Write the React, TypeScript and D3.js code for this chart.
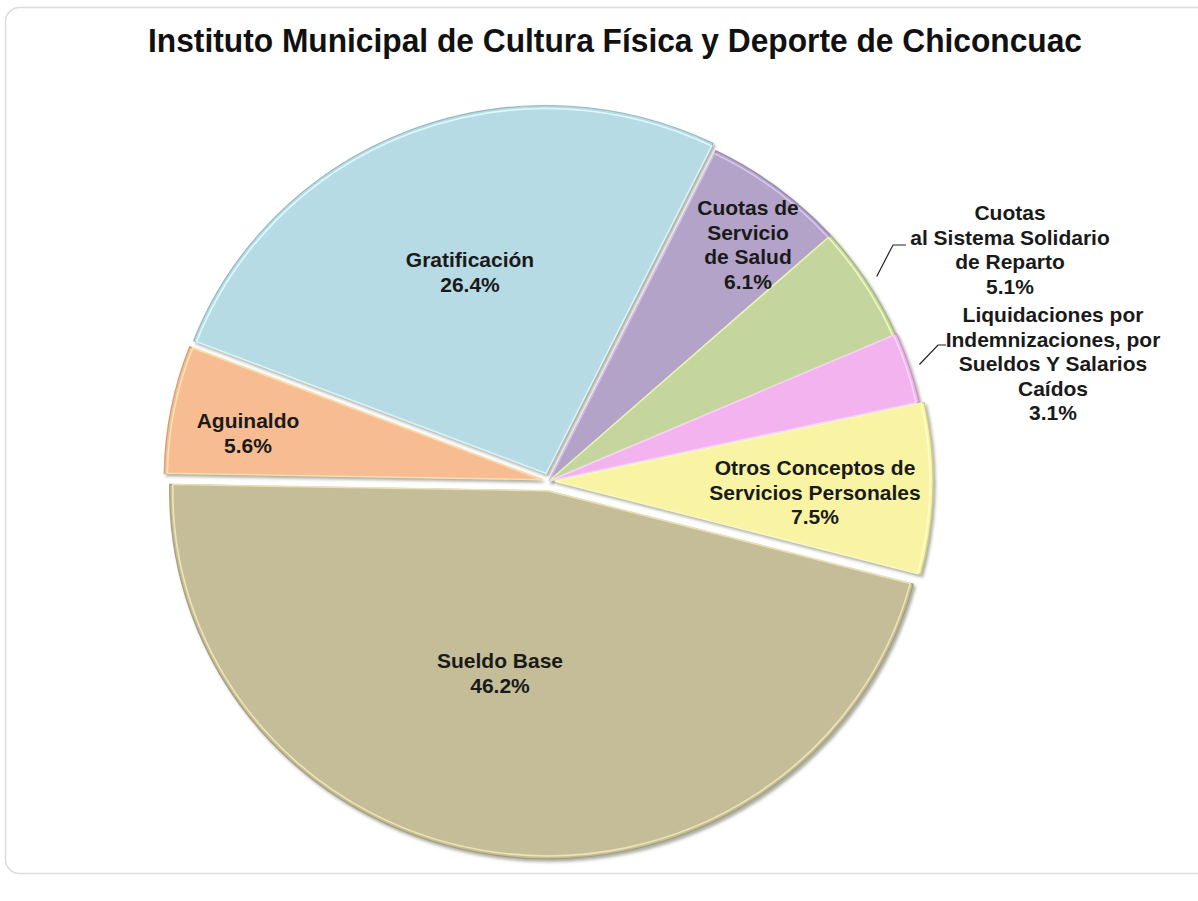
import React from 'react'
import * as d3 from 'd3'

// slice data, clockwise starting at the top-right
const categories = [
  'Cuotas de Servicio de Salud',
  'Cuotas al Sistema Solidario de Reparto',
  'Liquidaciones por Indemnizaciones, por Sueldos Y Salarios Caídos',
  'Otros Conceptos de Servicios Personales',
  'Sueldo Base',
  'Aguinaldo',
  'Gratificación'
]
const values = [6.1, 5.1, 3.1, 7.5, 46.2, 5.6, 26.4]
const labelLines = [
  ['Cuotas de', 'Servicio', 'de Salud'],
  ['Cuotas', 'al Sistema Solidario', 'de Reparto'],
  ['Liquidaciones por', 'Indemnizaciones, por', 'Sueldos Y Salarios', 'Caídos'],
  ['Otros Conceptos de', 'Servicios Personales'],
  ['Sueldo Base'],
  ['Aguinaldo'],
  ['Gratificación']
]
const colors = ['#b3a3c8', '#c4d69d', '#f3b3ee', '#f8f4a4', '#c4bd97', '#f7bc92', '#b7dbe5']

const TITLE = 'Instituto Municipal de Cultura Física y Deporte de Chiconcuac'

const W = 1198
const H = 901
const cx = 549
const cy = 481
const R = 368
const SX = 1.027 // picture is a little wider than tall
const START = (26.2 * Math.PI) / 180

// pull-out distance per slice (px)
const explode = [0, 0, 1, 6, 10, 7, 8]
// label anchors (centre of the first text line) and leader line elbows
const labelPos: [number, number][] = [
  [748, 208],
  [1010, 213],
  [1053, 315],
  [815, 468],
  [500, 661],
  [248, 421],
  [470, 260]
]
const leaders: Record<number, [number, number][]> = {
  1: [[893, 245], [906, 245]],
  2: [[938, 345], [946, 345]]
}

export default function App() {
  const pie = d3
    .pie<number>()
    .sort(null)
    .startAngle(START)
    .endAngle(START + Math.PI * 2)
  const arcs = pie(values)
  const arc = d3.arc<d3.PieArcDatum<number>>().innerRadius(0).outerRadius(R)
  const inner = d3.arc<d3.PieArcDatum<number>>().innerRadius(0).outerRadius(R - 3)

  const lineH = 24.5

  return (
    <svg width={W} height={H} style={{ display: 'block', position: 'absolute', left: 0, top: 0 }}>
      <defs>
        <filter id="shadow" x="-10%" y="-10%" width="120%" height="120%">
          <feDropShadow dx="2" dy="2.5" stdDeviation="1.5" floodColor="#6b6b5a" floodOpacity="0.55" />
        </filter>
      </defs>
      <rect x={0} y={0} width={W} height={H} fill="#fff" />
      <rect x={5.5} y={7.5} width={1205} height={866} rx={14} fill="#fff" stroke="#dcdcdc" strokeWidth={1.5} />
      <text
        x={615}
        y={52}
        textAnchor="middle"
        textLength={934}
        lengthAdjust="spacingAndGlyphs"
        fontFamily="'Liberation Sans Narrow', 'Liberation Sans', Arial, sans-serif"
        fontWeight="bold"
        fontSize={34}
        fill="#111"
      >
        {TITLE}
      </text>

      <g transform={`translate(${cx},${cy}) scale(${SX},1)`}>
        {arcs.map((a, i) => {
          const mid = (a.startAngle + a.endAngle) / 2
          const dx = Math.sin(mid) * explode[i]
          const dy = -Math.cos(mid) * explode[i]
          const c = d3.color(colors[i])!
          return (
            <g key={categories[i]} transform={`translate(${dx / SX},${dy})`}>
              <path
                d={arc(a) || ''}
                fill={colors[i]}
                stroke={c.darker(0.5).formatHex()}
                strokeWidth={1.2}
                filter="url(#shadow)"
              />
              <path
                d={inner(a) || ''}
                fill="none"
                stroke={c.brighter(0.6).formatHex()}
                strokeWidth={1.6}
                strokeOpacity={0.85}
              />
            </g>
          )
        })}
      </g>

      {arcs.map((a, i) => {
        if (!leaders[i]) return null
        const mid = (a.startAngle + a.endAngle) / 2
        const sx = cx + Math.sin(mid) * R * SX * 1.03
        const sy = cy - Math.cos(mid) * R * 1.03
        const pts: [number, number][] = [[sx, sy], ...leaders[i]]
        return (
          <path
            key={'l' + i}
            d={d3.line()(pts) || ''}
            fill="none"
            stroke="#222"
            strokeWidth={1.2}
          />
        )
      })}

      {arcs.map((a, i) => {
        const [lx, ly] = labelPos[i]
        const lines = [...labelLines[i], `${d3.format('.1f')(values[i])}%`]
        return (
          <text
            key={'t' + i}
            textAnchor="middle"
            fontFamily="'Liberation Sans', Arial, sans-serif"
            fontWeight="bold"
            fontSize={21}
            fill="#1a1a1a"
          >
            {lines.map((s, j) => (
              <tspan key={j} x={lx} y={ly + j * lineH} dy="0.35em">
                {s}
              </tspan>
            ))}
          </text>
        )
      })}
    </svg>
  )
}
